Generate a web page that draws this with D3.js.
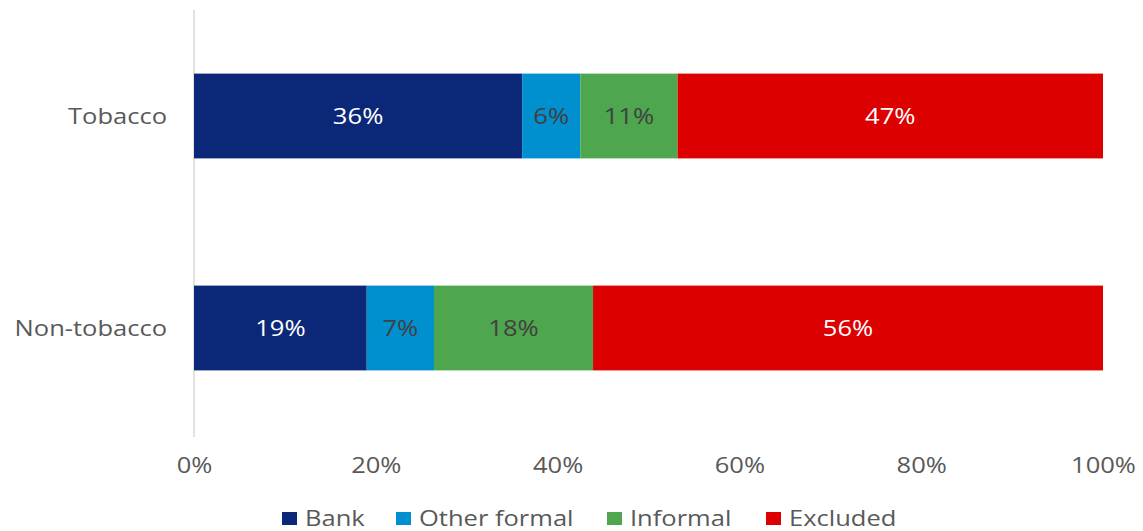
<!DOCTYPE html>
<html>
<head>
<meta charset="utf-8">
<script src="https://cdn.jsdelivr.net/npm/d3@7"></script>
<style>
  html, body { margin: 0; padding: 0; background: #fff; }
  svg { display: block; font-family: "Open Sans", "DejaVu Sans", sans-serif; }
</style>
</head>
<body>
<svg id="chart" width="1143" height="531"></svg>
<script>
const categories = ["Tobacco", "Non-tobacco"];
const seriesNames = ["Bank", "Other formal", "Informal", "Excluded"];
const bank        = [36.1, 19.0];
const otherFormal = [6.4, 7.4];
const informal    = [10.7, 17.5];
const excluded    = [46.8, 56.1];
const tickValues  = [0, 20, 40, 60, 80, 100];
const colors      = ["#0B2878", "#008FCF", "#4EA64E", "#DC0000"];
const labelColors = ["#ffffff", "#404040", "#404040", "#ffffff"];

const seriesValues = [bank, otherFormal, informal, excluded];
const rows = categories.map((c, i) => {
  const r = { category: c };
  seriesNames.forEach((s, j) => r[s] = seriesValues[j][i]);
  return r;
});
const stacked = d3.stack().keys(seriesNames)(rows);

const SX = 1.16;   // horizontal stretch of text in the reference
const SXD = 1.22;  // data labels

const svg = d3.select("#chart");
const x = d3.scaleLinear().domain([0, 100]).range([194, 1103]);
const y = d3.scaleBand().domain(categories).range([10, 434]).paddingInner(0.6).paddingOuter(0.3);

// vertical axis line
svg.append("line")
  .attr("x1", x(0)).attr("x2", x(0))
  .attr("y1", 10).attr("y2", 437)
  .attr("stroke", "#d9d9d9").attr("stroke-width", 1.5);

const g = svg.append("g");
stacked.forEach((layer, j) => {
  g.selectAll(null).data(layer).enter().append("rect")
    .attr("x", d => x(d[0]))
    .attr("y", d => y(d.data.category))
    .attr("width", d => x(d[1]) - x(d[0]))
    .attr("height", y.bandwidth())
    .attr("fill", colors[j]);
  g.selectAll(null).data(layer).enter().append("text")
    .attr("transform", d => `translate(${(x(d[0]) + x(d[1])) / 2},${y(d.data.category) + y.bandwidth() / 2}) scale(${SXD},1)`)
    .attr("dy", "0.36em")
    .attr("text-anchor", "middle")
    .attr("fill", labelColors[j])
    .attr("font-size", 21)
    .text(d => Math.round(d[1] - d[0]) + "%");
});

// category labels
svg.append("g").selectAll("text").data(categories).enter().append("text")
  .attr("transform", d => `translate(167,${y(d) + y.bandwidth() / 2}) scale(${SX},1)`)
  .attr("dy", "0.35em")
  .attr("text-anchor", "end")
  .attr("fill", "#595959")
  .attr("font-size", 22)
  .text(d => d);

// x axis tick labels
const xAxis = d3.axisBottom(x).tickValues(tickValues).tickFormat(d => d + "%").tickSize(0).tickPadding(0);
const ax = svg.append("g").attr("transform", "translate(0,473)").call(xAxis);
ax.select(".domain").remove();
ax.selectAll("text")
  .attr("y", 0).attr("dy", null)
  .attr("transform", `scale(${SX},1)`)
  .attr("fill", "#595959").attr("font-size", 22)
  .attr("font-family", "\"Open Sans\", sans-serif");

// legend
const legendX = [282, 396, 607, 766];
const leg = svg.append("g").selectAll("g").data(seriesNames).enter().append("g")
  .attr("transform", (d, i) => `translate(${legendX[i]},518)`);
leg.append("rect").attr("x", 0).attr("y", -6).attr("width", 15).attr("height", 13)
  .attr("fill", (d, i) => colors[i]);
leg.append("text")
  .attr("transform", `translate(23,0) scale(${SX},1)`)
  .attr("dy", "0.36em")
  .attr("fill", "#595959").attr("font-size", 22).text(d => d);
</script>
</body>
</html>
